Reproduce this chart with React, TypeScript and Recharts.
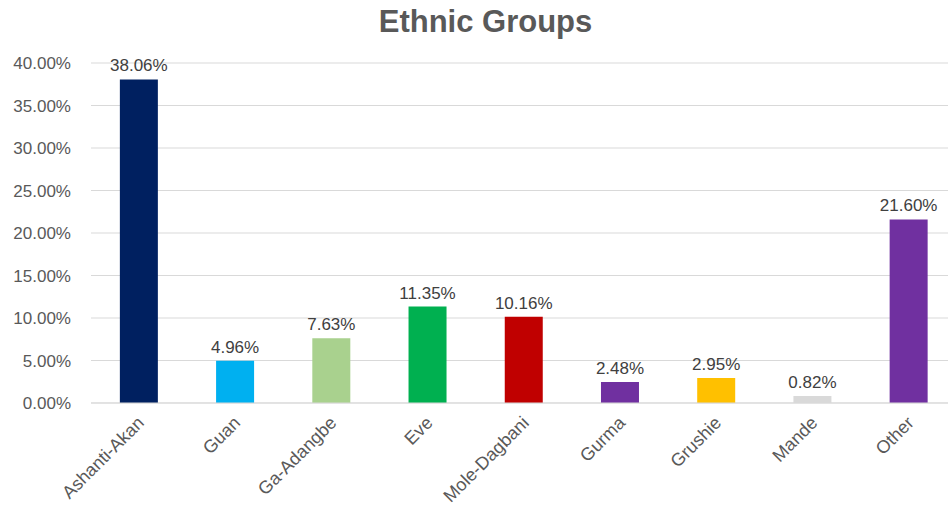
import React from "react";
import { BarChart, Bar, XAxis, YAxis, CartesianGrid, LabelList, Cell } from "recharts";

const categories = ["Ashanti-Akan", "Guan", "Ga-Adangbe", "Eve", "Mole-Dagbani", "Gurma", "Grushie", "Mande", "Other"];
const values = [38.06, 4.96, 7.63, 11.35, 10.16, 2.48, 2.95, 0.82, 21.6];
const colors = ["#002060", "#00B0F0", "#A9D18E", "#00B050", "#C00000", "#7030A0", "#FFC000", "#D9D9D9", "#7030A0"];
const yTicks = [0, 5, 10, 15, 20, 25, 30, 35, 40];

const data = categories.map((name, i) => ({ name, value: values[i] }));

const FONT = "'Liberation Sans', Arial, sans-serif";

const XTick = (props: any) => {
  const { x, y, payload } = props;
  return (
    <text
      x={x + 6}
      y={y + 13}
      transform={`rotate(-45, ${x + 6}, ${y + 13})`}
      textAnchor="end"
      fontFamily={FONT}
      fontSize={18}
      fill="#595959"
    >
      {payload.value}
    </text>
  );
};

export default function App() {
  return (
    <div style={{ position: "absolute", left: 0, top: 0, width: 960, height: 518, background: "#fff" }}>
      <div
        style={{
          position: "absolute",
          left: 0,
          width: 971,
          top: 4,
          textAlign: "center",
          fontFamily: FONT,
          fontWeight: "bold",
          fontSize: 31,
          color: "#595959",
        }}
      >
        Ethnic Groups
      </div>
      <BarChart
        width={960}
        height={518}
        data={data}
        margin={{ top: 63, right: 3, bottom: 0, left: 0 }}
        barCategoryGap="30%"
      >
        <CartesianGrid vertical={false} stroke="#D9D9D9" />
        <XAxis
          dataKey="name"
          interval={0}
          tick={<XTick />}
          tickLine={false}
          axisLine={{ stroke: "#D9D9D9" }}
          height={115}
        />
        <YAxis
          width={91}
          domain={[0, 40]}
          ticks={yTicks}
          tickFormatter={(v: number) => `${v.toFixed(2)}%`}
          axisLine={false}
          tickLine={false}
          tickMargin={14}
          tick={{ fontFamily: FONT, fontSize: 17, fill: "#595959" }}
        />
        <Bar dataKey="value" isAnimationActive={false}>
          {data.map((d, i) => (
            <Cell key={d.name} fill={colors[i]} />
          ))}
          <LabelList
            dataKey="value"
            position="top"
            offset={8}
            formatter={(v: number) => `${v.toFixed(2)}%`}
            style={{ fontFamily: FONT, fontSize: 17, fill: "#404040" }}
          />
        </Bar>
      </BarChart>
    </div>
  );
}
